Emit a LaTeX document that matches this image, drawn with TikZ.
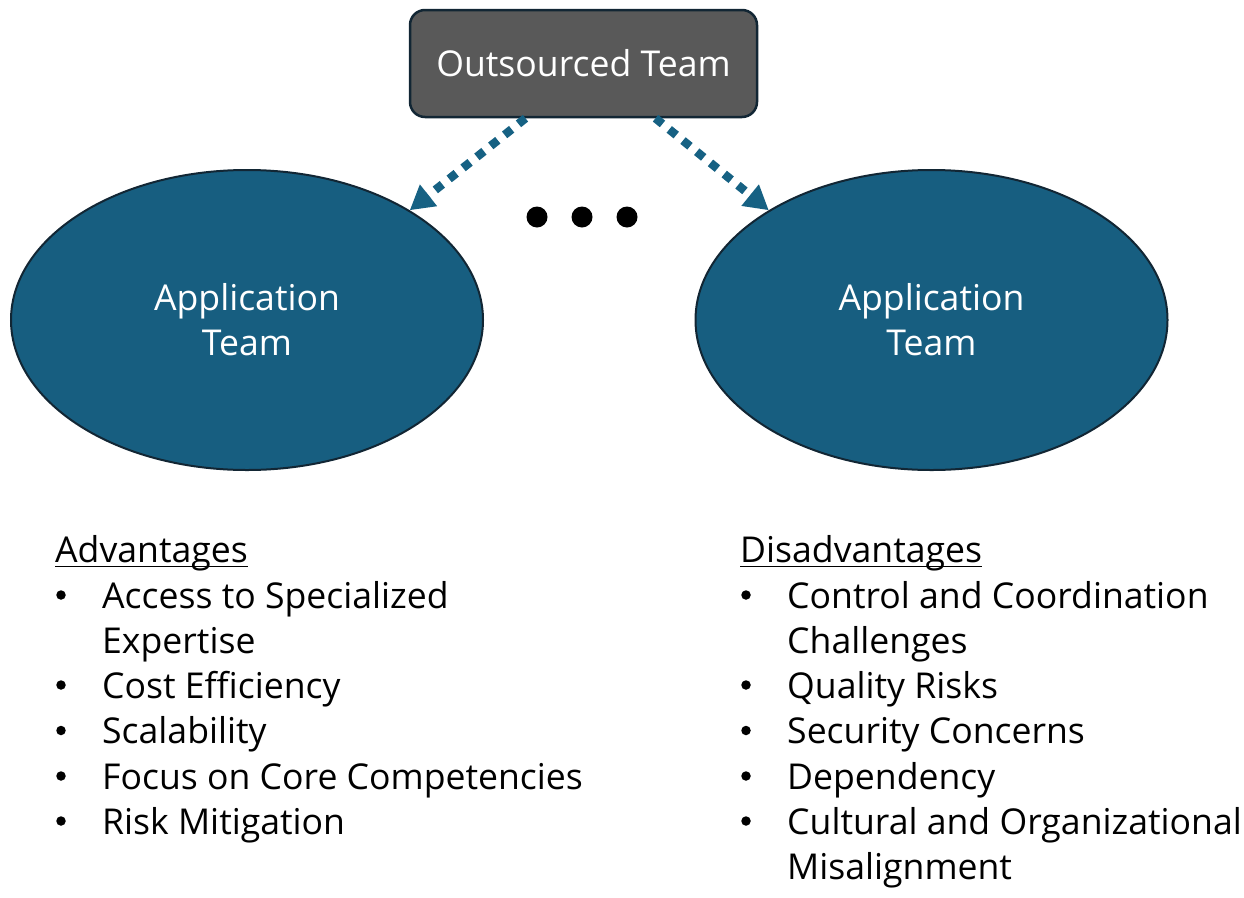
\documentclass[tikz,border=0pt]{standalone}
\usepackage{fontspec}
\setmainfont{Open Sans}
\usetikzlibrary{shapes.geometric,arrows.meta}
\definecolor{teamblue}{RGB}{23,94,128}
\definecolor{arrowblue}{RGB}{22,97,131}
\definecolor{boxgray}{RGB}{89,89,89}
\definecolor{edgedark}{RGB}{18,38,52}
\begin{document}
\begin{tikzpicture}[x=1pt,y=-1pt,
 bigtext/.style={font=\fontsize{35.6}{45}\selectfont},
 appteam/.style={ellipse, fill=teamblue, draw=edgedark, line width=2pt, minimum width=472pt, minimum height=300pt, inner sep=0pt, text=white, align=center, bigtext},
 outbox/.style={rectangle, rounded corners=15pt, fill=boxgray, draw=edgedark, line width=2.5pt, minimum width=347pt, minimum height=107pt, inner sep=0pt, text=white, bigtext},
 dotarrow/.style={draw=arrowblue, line width=8.5pt, dash pattern=on 9pt off 8.7pt, -{Triangle[length=24pt,width=26pt,fill=arrowblue]}},
 ellipsisdot/.style={circle, fill=black, minimum size=21pt, inner sep=0pt},
 bulletdot/.style={circle, fill=black, minimum size=9.5pt, inner sep=0pt},
 listline/.style={anchor=base west, inner sep=0pt, text=black, bigtext},
]
\useasboundingbox (0,0) rectangle (1244,897);
\node[outbox] (box) at (583.5,63.5) {Outsourced Team};
\node[appteam] (L) at (247,320) {Application\\Team};
\node[appteam] (R) at (931.5,320) {Application\\Team};
\node[ellipsisdot] (d1) at (537,217) {};
\node[ellipsisdot] (d2) at (582,217) {};
\node[ellipsisdot] (d3) at (627,217) {};
\draw[dotarrow] ([xshift=-58pt]box.south) -- (L.34);
\draw[dotarrow] ([xshift=72pt]box.south) -- (R.146);
% advantages
\node[listline] (adv) at (55,562.5) {Advantages};
\draw[line width=1.6pt] ([yshift=-4pt]adv.base west) -- ([yshift=-4pt]adv.base east);
\node[bulletdot] (ab1) at (61,595) {};
\node[listline] (a1) at (102,608) {Access to Specialized};
\node[listline] (a1b) at (102,653) {Expertise};
\node[bulletdot] (ab2) at (61,685) {};
\node[listline] (a2) at (102,698) {Cost Efficiency};
\node[bulletdot] (ab3) at (61,730.5) {};
\node[listline] (a3) at (102,743.5) {Scalability};
\node[bulletdot] (ab4) at (61,776) {};
\node[listline] (a4) at (102,789) {Focus on Core Competencies};
\node[bulletdot] (ab5) at (61,821) {};
\node[listline] (a5) at (102,834) {Risk Mitigation};
% disadvantages
\node[listline] (dis) at (740,562.5) {Disadvantages};
\draw[line width=1.6pt] ([yshift=-4pt]dis.base west) -- ([yshift=-4pt]dis.base east);
\node[bulletdot] (db1) at (746,595) {};
\node[listline] (e1) at (787,608) {Control and Coordination};
\node[listline] (e1b) at (787,653) {Challenges};
\node[bulletdot] (db2) at (746,685) {};
\node[listline] (e2) at (787,698) {Quality Risks};
\node[bulletdot] (db3) at (746,730.5) {};
\node[listline] (e3) at (787,743.5) {Security Concerns};
\node[bulletdot] (db4) at (746,776) {};
\node[listline] (e4) at (787,789) {Dependency};
\node[bulletdot] (db5) at (746,821) {};
\node[listline] (e5) at (787,834) {Cultural and Organizational};
\node[listline] (e5b) at (787,879) {Misalignment};
\end{tikzpicture}
\end{document}
